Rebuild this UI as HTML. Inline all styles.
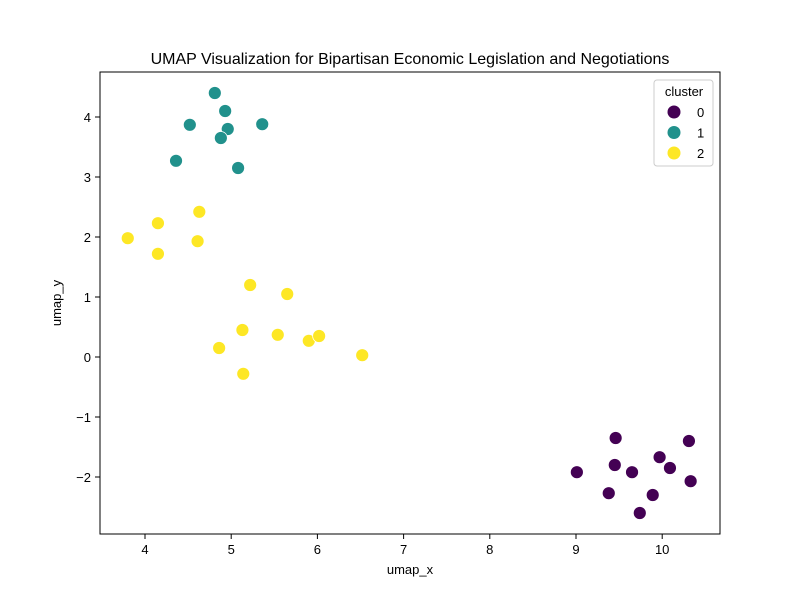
<!DOCTYPE html>
<html><head><meta charset="utf-8"><style>body{margin:0;background:#fff}svg{font-family:"Liberation Sans","DejaVu Sans",sans-serif}</style></head>
<body>
<svg id="chart" width="800" height="600" xmlns="http://www.w3.org/2000/svg">
<rect width="800" height="600" fill="#fff"/>
<text x="410" y="64" text-anchor="middle" font-size="16">UMAP Visualization for Bipartisan Economic Legislation and Negotiations</text>
<g id="marks"></g>
<rect x="100" y="72" width="620" height="462" fill="none" stroke="#000" stroke-width="1"/>
<g id="axes"></g>
<text x="410" y="574" text-anchor="middle" font-size="13">umap_x</text>
<text transform="translate(61,303) rotate(-90)" text-anchor="middle" font-size="13">umap_y</text>
<g>
<rect x="654" y="80" width="59" height="86" rx="3" fill="#fff" fill-opacity="0.8" stroke="#ccc"/>
<text x="684" y="96" text-anchor="middle" font-size="13">cluster</text>
<g id="legend-entries"></g>
</g>
</svg>
<script>
const clusterIds=[0,1,2];
const colors=["#440154","#21918c","#fde725"];
const xs0=[9.46,10.31,9.97,9.45,10.09,9.01,9.65,10.33,9.38,9.89,9.74];
const ys0=[-1.35,-1.40,-1.67,-1.80,-1.85,-1.92,-1.92,-2.07,-2.27,-2.30,-2.60];
const xs1=[4.81,4.93,4.52,4.96,5.36,4.88,4.36,5.08];
const ys1=[4.40,4.10,3.87,3.80,3.88,3.65,3.27,3.15];
const xs2=[3.80,4.15,4.63,4.15,4.61,5.22,5.65,5.13,5.54,5.90,6.02,4.86,6.52,5.14];
const ys2=[1.98,2.23,2.42,1.72,1.93,1.20,1.05,0.45,0.37,0.27,0.35,0.15,0.03,-0.28];
const xTicks=[4,5,6,7,8,9,10];
const yTicks=[-2,-1,0,1,2,3,4];
const NS="http://www.w3.org/2000/svg";
const sx=v=>145+(v-4)*86.2;
const sy=v=>357-v*60;
const marks=document.getElementById('marks');
[[xs0,ys0],[xs1,ys1],[xs2,ys2]].forEach((s,ci)=>{
  s[0].forEach((x,i)=>{
    const c=document.createElementNS(NS,'circle');
    c.setAttribute('cx',sx(x));c.setAttribute('cy',sy(s[1][i]));c.setAttribute('r',6.5);
    c.setAttribute('fill',colors[ci]);c.setAttribute('stroke','#fff');c.setAttribute('stroke-width','0.8');
    
    
    marks.appendChild(c);
  });
});
const axes=document.getElementById('axes');
xTicks.forEach(t=>{
  const l=document.createElementNS(NS,'line');
  l.setAttribute('x1',sx(t));l.setAttribute('x2',sx(t));l.setAttribute('y1',534);l.setAttribute('y2',539);l.setAttribute('stroke','#000');
  
  
  axes.appendChild(l);
  const tx=document.createElementNS(NS,'text');
  tx.setAttribute('x',sx(t));tx.setAttribute('y',554);tx.setAttribute('text-anchor','middle');tx.setAttribute('font-size','13');
  tx.textContent=t;
  
  
  axes.appendChild(tx);
});
yTicks.forEach(t=>{
  const l=document.createElementNS(NS,'line');
  l.setAttribute('x1',95);l.setAttribute('x2',100);l.setAttribute('y1',sy(t));l.setAttribute('y2',sy(t));l.setAttribute('stroke','#000');
  
  
  axes.appendChild(l);
  const tx=document.createElementNS(NS,'text');
  tx.setAttribute('x',91);tx.setAttribute('y',sy(t)+5);tx.setAttribute('text-anchor','end');tx.setAttribute('font-size','13');
  tx.textContent=t<0?'\u2212'+(-t):t;
  
  
  axes.appendChild(tx);
});
const le=document.getElementById('legend-entries');
clusterIds.forEach((id,i)=>{
  const y=112+i*20.5;
  const c=document.createElementNS(NS,'circle');
  c.setAttribute('cx',674);c.setAttribute('cy',y);c.setAttribute('r',6.5);c.setAttribute('fill',colors[i]);
  
  
  le.appendChild(c);
  const t=document.createElementNS(NS,'text');
  t.setAttribute('x',697);t.setAttribute('y',y+5);t.setAttribute('font-size','13');t.textContent=id;
  
  
  le.appendChild(t);
});
</script>
</body></html>
